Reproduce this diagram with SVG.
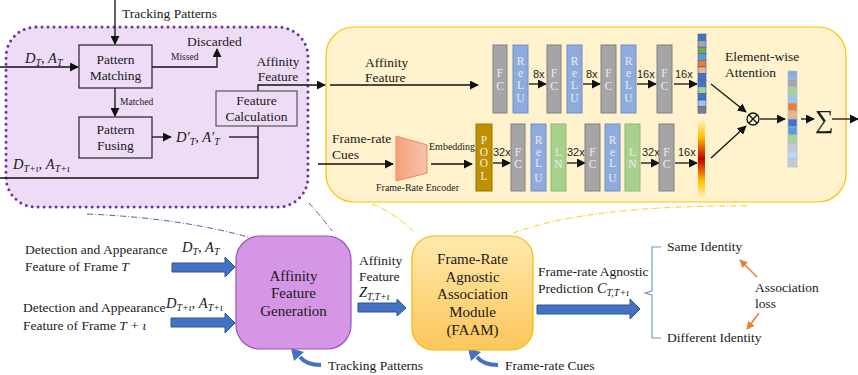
<svg xmlns="http://www.w3.org/2000/svg" width="858" height="375" viewBox="0 0 858 375" font-family="'Liberation Serif','Times New Roman',serif">
<style>
text{font-family:"Liberation Serif","Times New Roman",serif;fill:#1a1a1a}
.t{font-size:13.5px}
.s{font-size:9.5px}
.e{font-size:10px}
.m{font-size:14.5px;font-style:italic}
.big{font-size:15px}
.n{font-family:"Liberation Sans",Arial,sans-serif;font-size:11px;fill:#222}
.bl{font-size:11.5px;fill:#ececec;text-anchor:middle}
.box{fill:none;stroke:#222;stroke-width:1.2}
.ln{fill:none;stroke:#111;stroke-width:1.3}
.fc{fill:#a5a5a5;stroke:#808080;stroke-width:1}
.re{fill:#8faadc;stroke:#6f8fcf;stroke-width:1}
.lnm{fill:#a9d18e;stroke:#8cb872;stroke-width:1}
.blk{fill:#4472c4;stroke:#2f528f;stroke-width:1}
.cv{fill:none;stroke:#4472c4;stroke-width:4}
.pd{fill:none;stroke:#7030a0;stroke-width:0.9;stroke-dasharray:6 2 1 2}
.yd{fill:none;stroke:#ffc000;stroke-width:0.9;stroke-dasharray:6 2 1 2}
.or{fill:none;stroke:#ed7d31;stroke-width:1.5}
</style>
<defs>
<marker id="ah" viewBox="0 0 10 10" refX="9" refY="5" markerWidth="9" markerHeight="9" markerUnits="userSpaceOnUse" orient="auto">
<path d="M0,0 L10,5 L0,10 z" fill="#111"/>
</marker>
<marker id="ao" viewBox="0 0 10 10" refX="9" refY="5" markerWidth="8" markerHeight="8" markerUnits="userSpaceOnUse" orient="auto">
<path d="M0,0 L10,5 L0,10 z" fill="#ed7d31"/>
</marker>
<linearGradient id="gBar" x1="0" y1="0" x2="0" y2="1">
<stop offset="0" stop-color="#fff3c4"/>
<stop offset="0.22" stop-color="#ffc000"/>
<stop offset="0.5" stop-color="#c00000"/>
<stop offset="0.78" stop-color="#ffc000"/>
<stop offset="1" stop-color="#fff3c4"/>
</linearGradient>
<linearGradient id="gEnc" x1="0" y1="0" x2="1" y2="0">
<stop offset="0" stop-color="#f4a07c"/>
<stop offset="1" stop-color="#f7c3ab"/>
</linearGradient>
<linearGradient id="gFaam" x1="0" y1="0" x2="0" y2="1">
<stop offset="0" stop-color="#ffe9ad"/>
<stop offset="1" stop-color="#fcc65a"/>
</linearGradient>
</defs>

<!-- container regions -->
<g id="afg-detail">
<rect x="6" y="27" width="302" height="180" rx="30" fill="#eedcf6" stroke="#7030a0" stroke-width="3" stroke-dasharray="0 6" stroke-linecap="round"/>
</g>
<g id="faam-detail">
<rect x="326" y="27" width="520" height="175" rx="28" fill="#fff2cc" stroke="#ffc000" stroke-width="1.2"/>
</g>

<!-- connectors -->
<g id="connectors">
<path class="ln" d="M115,0 V44" marker-end="url(#ah)"/>
<path class="ln" d="M0,67 H78" marker-end="url(#ah)"/>
<path class="ln" d="M152,67 H217 V49" marker-end="url(#ah)"/>
<path class="ln" d="M115,88 V116" marker-end="url(#ah)"/>
<path class="ln" d="M152,137 H171" marker-end="url(#ah)"/>
<path class="ln" d="M229,137 H258"/>
<path class="ln" d="M258,126 V178 H0"/>
<path class="ln" d="M258,91 V85 H325" marker-end="url(#ah)"/>
<path class="ln" d="M330,85 H478" marker-end="url(#ah)"/>
<path class="ln" d="M318,164 H393" marker-end="url(#ah)"/>
<path class="ln" d="M431,164 H472" marker-end="url(#ah)"/>
<path class="ln" d="M529,84 H546" marker-end="url(#ah)"/>
<path class="ln" d="M583,84 H600" marker-end="url(#ah)"/>
<path class="ln" d="M637,84 H656" marker-end="url(#ah)"/>
<path class="ln" d="M674,84 H697" marker-end="url(#ah)"/>
<path class="ln" d="M493,163 H510" marker-end="url(#ah)"/>
<path class="ln" d="M567,163 H585" marker-end="url(#ah)"/>
<path class="ln" d="M641,163 H659" marker-end="url(#ah)"/>
<path class="ln" d="M675,163 H697" marker-end="url(#ah)"/>
<path class="ln" d="M711,84 L746,112" marker-end="url(#ah)"/>
<path class="ln" d="M711,158 L746,126" marker-end="url(#ah)"/>
<path class="ln" d="M760,119 H785" marker-end="url(#ah)"/>
<path class="ln" d="M801,119 H814" marker-end="url(#ah)"/>
<path class="ln" d="M832,119 H858" marker-end="url(#ah)"/>
<path class="pd" d="M87,214 Q180,218 248,237"/>
<path class="pd" d="M309,203 Q320,215 332,231"/>
<path class="yd" d="M372,204 Q395,213 415,233"/>
<path class="yd" d="M513,233 Q590,205 747,206"/>
<polygon class="blk" points="172,263 225,263 225,257 235,267 225,277 225,272 172,272"/>
<polygon class="blk" points="171,318 225,318 225,313 235,323 225,333 225,327 171,327"/>
<polygon class="blk" points="358,303 397,303 397,299 406,308 397,316 397,312 358,312"/>
<polygon class="blk" points="537,305 630,305 630,299 640,309 630,319 630,314 537,314"/>
<path class="cv" d="M321,365 C311,365 304,362 300,357"/>
<polygon points="291,348 304,352 294,361" fill="#4472c4"/>
<path class="cv" d="M498,365 C488,365 481,362 477,357"/>
<polygon points="468,348 481,352 471,361" fill="#4472c4"/>
<path d="M661,247 H652 V291 L645,293 L652,295 V338 H661" fill="none" stroke="#6f8fd0" stroke-width="1.1"/>
<path class="or" d="M757,277 L740,260" marker-end="url(#ao)"/>
<path class="or" d="M759,313 L747,329" marker-end="url(#ao)"/>
</g>

<!-- top-left detail -->
<text class="t" x="122" y="18">Tracking Patterns</text>
<text class="m" x="25" y="63">D<tspan dy="3" font-size="10">T</tspan><tspan dy="-3">, A</tspan><tspan dy="3" font-size="10">T</tspan></text>
<g id="pattern-matching">
<rect class="box" x="79" y="45" width="73" height="43"/>
<text class="t" x="115.5" y="64" text-anchor="middle">Pattern</text>
<text class="t" x="115.5" y="80" text-anchor="middle">Matching</text>
</g>
<text class="s" x="171" y="60">Missed</text>
<text class="t" x="187" y="46">Discarded</text>
<text class="s" x="120" y="105">Matched</text>
<g id="pattern-fusing">
<rect class="box" x="79" y="117" width="73" height="41"/>
<text class="t" x="115.5" y="134" text-anchor="middle">Pattern</text>
<text class="t" x="115.5" y="150" text-anchor="middle">Fusing</text>
</g>
<text class="m" x="176" y="142">D′<tspan dy="3" font-size="10">T</tspan><tspan dy="-3">, A′</tspan><tspan dy="3" font-size="10">T</tspan></text>
<g id="feature-calculation">
<rect x="216" y="91" width="81" height="35" fill="none" stroke="#555" stroke-width="1.2"/>
<text class="t" x="256.5" y="105" text-anchor="middle">Feature</text>
<text class="t" x="256.5" y="121" text-anchor="middle">Calculation</text>
</g>
<text class="t" x="278" y="66" text-anchor="middle">Affinity</text>
<text class="t" x="278" y="81" text-anchor="middle">Feature</text>
<text class="m" x="13" y="169">D<tspan dy="3" font-size="10">T+ι</tspan><tspan dy="-3">, A</tspan><tspan dy="3" font-size="10">T+ι</tspan></text>

<!-- top-right detail -->
<text class="t" x="365" y="67">Affinity</text>
<text class="t" x="365" y="82">Feature</text>
<text class="t" x="332" y="143">Frame-rate</text>
<text class="t" x="332" y="159">Cues</text>
<g id="frame-rate-encoder">
<polygon points="396,136 427,145 427,173 396,181" fill="url(#gEnc)" stroke="#f0895a" stroke-width="1"/>
<text class="e" x="376" y="191">Frame-Rate Encoder</text>
</g>
<text class="e" x="429" y="150">Embedding</text>

<g id="upper-branch">
<rect class="fc" x="493" y="45" width="14" height="68"/>
<text class="bl"><tspan x="500" y="77">F</tspan><tspan x="500" y="90">C</tspan></text>
<rect class="re" x="513" y="45" width="15" height="68"/>
<text class="bl"><tspan x="520.5" y="65">R</tspan><tspan x="520.5" y="77">e</tspan><tspan x="520.5" y="89">L</tspan><tspan x="520.5" y="102">U</tspan></text>
<text class="n" x="533" y="78">8x</text>
<rect class="fc" x="547" y="45" width="14" height="68"/>
<text class="bl"><tspan x="554" y="77">F</tspan><tspan x="554" y="90">C</tspan></text>
<rect class="re" x="567" y="45" width="15" height="68"/>
<text class="bl"><tspan x="574.5" y="65">R</tspan><tspan x="574.5" y="77">e</tspan><tspan x="574.5" y="89">L</tspan><tspan x="574.5" y="102">U</tspan></text>
<text class="n" x="586" y="78">8x</text>
<rect class="fc" x="601" y="45" width="15" height="68"/>
<text class="bl"><tspan x="608.5" y="77">F</tspan><tspan x="608.5" y="90">C</tspan></text>
<rect class="re" x="621" y="45" width="15" height="68"/>
<text class="bl"><tspan x="628.5" y="65">R</tspan><tspan x="628.5" y="77">e</tspan><tspan x="628.5" y="89">L</tspan><tspan x="628.5" y="102">U</tspan></text>
<text class="n" x="637" y="78">16x</text>
<rect class="fc" x="657" y="45" width="15" height="68"/>
<text class="bl"><tspan x="664.5" y="77">F</tspan><tspan x="664.5" y="90">C</tspan></text>
<text class="n" x="675" y="78">16x</text>
<g stroke="#3a5fa8" stroke-width="0.6">
<rect x="698" y="34" width="8" height="6.6" fill="#4472c4"/>
<rect x="698" y="40.6" width="8" height="6.6" fill="#a5a5a5"/>
<rect x="698" y="47.2" width="8" height="6.6" fill="#70ad47"/>
<rect x="698" y="53.8" width="8" height="6.6" fill="#5b9bd5"/>
<rect x="698" y="60.4" width="8" height="6.6" fill="#ed7d31"/>
<rect x="698" y="67" width="8" height="6.6" fill="#f4b183"/>
<rect x="698" y="73.6" width="8" height="6.6" fill="#4472c4"/>
<rect x="698" y="80.2" width="8" height="6.6" fill="#4472c4"/>
<rect x="698" y="86.8" width="8" height="6.6" fill="#a9d18e"/>
<rect x="698" y="93.4" width="8" height="6.6" fill="#4472c4"/>
<rect x="698" y="100" width="8" height="6.6" fill="#9dc3e6"/>
<rect x="698" y="106.6" width="8" height="6.6" fill="#7f7f7f"/>
</g>
</g>

<g id="lower-branch">
<rect x="476" y="124" width="16" height="67" fill="#bf9000" stroke="#9a7400" stroke-width="1"/>
<text class="bl"><tspan x="484" y="144">P</tspan><tspan x="484" y="156">O</tspan><tspan x="484" y="167">O</tspan><tspan x="484" y="180">L</tspan></text>
<text class="n" x="493" y="156">32x</text>
<rect class="fc" x="511" y="124" width="14" height="67"/>
<text class="bl"><tspan x="518" y="156">F</tspan><tspan x="518" y="168">C</tspan></text>
<rect class="re" x="531" y="124" width="15" height="67"/>
<text class="bl"><tspan x="538.5" y="144">R</tspan><tspan x="538.5" y="156">e</tspan><tspan x="538.5" y="167">L</tspan><tspan x="538.5" y="182">U</tspan></text>
<rect class="lnm" x="551" y="124" width="15" height="67"/>
<text class="bl"><tspan x="558.5" y="156">L</tspan><tspan x="558.5" y="168">N</tspan></text>
<text class="n" x="567" y="156">32x</text>
<rect class="fc" x="585" y="124" width="15" height="67"/>
<text class="bl"><tspan x="592.5" y="156">F</tspan><tspan x="592.5" y="168">C</tspan></text>
<rect class="re" x="605" y="124" width="15" height="67"/>
<text class="bl"><tspan x="612.5" y="144">R</tspan><tspan x="612.5" y="156">e</tspan><tspan x="612.5" y="167">L</tspan><tspan x="612.5" y="182">U</tspan></text>
<rect class="lnm" x="625" y="124" width="15" height="67"/>
<text class="bl"><tspan x="632.5" y="156">L</tspan><tspan x="632.5" y="168">N</tspan></text>
<text class="n" x="642" y="156">32x</text>
<rect class="fc" x="659" y="124" width="15" height="67"/>
<text class="bl"><tspan x="666.5" y="156">F</tspan><tspan x="666.5" y="168">C</tspan></text>
<text class="n" x="678" y="156">16x</text>
<rect x="698" y="120" width="7" height="78" fill="url(#gBar)"/>
</g>

<g id="attention">
<text class="t" x="725" y="61">Element-wise</text>
<text class="t" x="725" y="77">Attention</text>
<circle cx="753" cy="119" r="6" fill="none" stroke="#111" stroke-width="1.3"/>
<path d="M748.8,114.8 L757.2,123.2 M757.2,114.8 L748.8,123.2" stroke="#111" stroke-width="1.3"/>
<g stroke="#9dc3e6" stroke-width="0.7">
<rect x="788" y="71" width="9" height="8" fill="#8faadc"/>
<rect x="788" y="79" width="9" height="8" fill="#a5a5a5"/>
<rect x="788" y="87" width="9" height="8" fill="#a9d18e"/>
<rect x="788" y="95" width="9" height="8" fill="#9dc3e6"/>
<rect x="788" y="103" width="9" height="8" fill="#ed7d31"/>
<rect x="788" y="111" width="9" height="8" fill="#f4b183"/>
<rect x="788" y="119" width="9" height="8" fill="#4472c4"/>
<rect x="788" y="127" width="9" height="8" fill="#5b9bd5"/>
<rect x="788" y="135" width="9" height="8" fill="#a9d18e"/>
<rect x="788" y="143" width="9" height="8" fill="#c9c9c9"/>
<rect x="788" y="151" width="9" height="8" fill="#bdd7ee"/>
<rect x="788" y="159" width="9" height="8" fill="#c9c9c9"/>
</g>
<text x="815" y="128" font-size="26">∑</text>
</g>

<!-- bottom overview -->
<g id="input-t">
<text class="t" x="25" y="254">Detection and Appearance</text>
<text class="t" x="25" y="271">Feature of Frame <tspan font-style="italic">T</tspan></text>
<text class="m" x="182" y="252">D<tspan dy="3" font-size="10">T</tspan><tspan dy="-3">, A</tspan><tspan dy="3" font-size="10">T</tspan></text>
</g>
<g id="input-t-iota">
<text class="t" x="23" y="312">Detection and Appearance</text>
<text class="t" x="23" y="330">Feature of Frame <tspan font-style="italic">T + ι</tspan></text>
<text class="m" x="166" y="308">D<tspan dy="3" font-size="10">T+ι</tspan><tspan dy="-3">, A</tspan><tspan dy="3" font-size="10">T+ι</tspan></text>
</g>
<g id="affinity-feature-generation">
<rect x="236" y="236" width="115" height="113" rx="24" fill="#d596e5" stroke="#9a4fbf" stroke-width="1.2"/>
<text class="big" x="293.5" y="281" text-anchor="middle">Affinity</text>
<text class="big" x="293.5" y="298" text-anchor="middle">Feature</text>
<text class="big" x="293.5" y="316" text-anchor="middle">Generation</text>
</g>
<text class="t" x="328" y="370">Tracking Patterns</text>
<text class="t" x="359" y="265">Affinity</text>
<text class="t" x="359" y="281">Feature</text>
<text class="m" x="359" y="297">Z<tspan dy="3" font-size="10">T,T+ι</tspan></text>
<g id="faam">
<rect x="412" y="236" width="121" height="114" rx="22" fill="url(#gFaam)" stroke="#f5b800" stroke-width="1.2"/>
<text class="big" x="472.5" y="264" text-anchor="middle">Frame-Rate</text>
<text class="big" x="472.5" y="282" text-anchor="middle">Agnostic</text>
<text class="big" x="472.5" y="299" text-anchor="middle">Association</text>
<text class="big" x="472.5" y="317" text-anchor="middle">Module</text>
<text class="big" x="472.5" y="335" text-anchor="middle">(FAAM)</text>
</g>
<text class="t" x="505" y="370">Frame-rate Cues</text>
<text class="t" x="538" y="276">Frame-rate Agnostic</text>
<text class="t" x="538" y="293">Prediction <tspan font-style="italic" font-size="14.5">C</tspan><tspan font-style="italic" font-size="10" dy="3">T,T+ι</tspan></text>
<g id="same-identity"><text class="t" x="667" y="251">Same Identity</text></g>
<g id="different-identity"><text class="t" x="667" y="342">Different Identity</text></g>
<g id="association-loss">
<text class="t" x="755" y="292">Association</text>
<text class="t" x="755" y="308">loss</text>
</g>
</svg>
